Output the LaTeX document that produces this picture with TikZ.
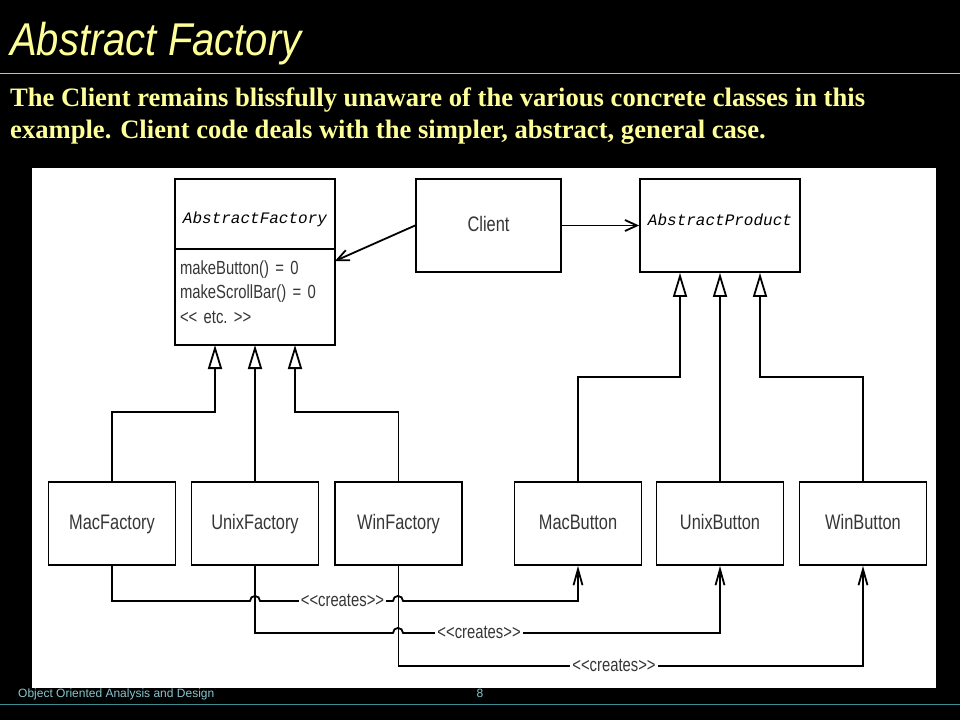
\documentclass[tikz,border=0pt]{standalone}
\usepackage{fontspec}
\setmainfont{Liberation Serif}
\newfontfamily\titlefont[FakeStretch=0.87]{Liberation Sans}
\newfontfamily\umlfont[FakeStretch=0.78]{Liberation Sans}
\newfontfamily\umlmono{Liberation Mono}
\newfontfamily\footfont{Liberation Sans}
\usetikzlibrary{arrows.meta}
\definecolor{slide_yellow}{HTML}{FFFF99}
\definecolor{slide_rule}{HTML}{9CC8EC}
\definecolor{foot_teal}{HTML}{86C6CE}
\definecolor{foot_rule}{HTML}{3C8C94}
\definecolor{uml_gray}{HTML}{363636}
\tikzset{
	node_class/.style = {
		rectangle,
		draw=black,
		fill=white,
		line width=1.8pt,
		inner sep=0pt,
		text=uml_gray,
		text height=15pt,
		text depth=4pt,
		font=\umlfont\fontsize{21}{24}\selectfont,
		minimum width=127pt,
		minimum height=83pt
	},
	node_abstract/.style = {
		node_class,
		font=\umlmono\itshape\fontsize{16}{18}\selectfont,
		text=black,
		minimum width=160pt
	},
	node_methods/.style = {
		node_class,
		align=left,
		text width=150pt,
		inner xsep=5pt,
		outer sep=0pt,
		text height=14pt,
		text depth=60pt,
		font=\umlfont\fontsize{19}{24.5}\selectfont,
		minimum width=160pt,
		minimum height=96pt
	},
	node_label/.style = {
		fill=white,
		inner sep=2pt,
		text=uml_gray,
		font=\umlfont\fontsize{19}{20}\selectfont
	},
	intro/.style = {
		anchor=base west,
		inner sep=0pt,
		text=slide_yellow,
		font=\bfseries\fontsize{26.6}{30}\selectfont
	},
	edge_inherit/.style = {
		-{Triangle[open,length=24pt,width=14pt]},
		line width=1.8pt
	},
	edge_uses/.style = {
		-{Straight Barb[length=12pt,width=11pt]},
		line width=1.8pt
	},
	edge_creates/.style = {
		-{Straight Barb[length=16pt,width=9pt]},
		line width=1.8pt
	},
}
\begin{document}
\begin{tikzpicture}[x=1pt,y=-1pt]
\useasboundingbox (0,0) rectangle (960,720);
\fill[black] (0,0) rectangle (960,720);
\fill[white] (32,168) rectangle (936,688);

% slide heading
\node[anchor=base west, inner sep=0pt, text=slide_yellow, font=\titlefont\itshape\fontsize{46}{46}\selectfont] (title) at (10,55) {Abstract Factory};
\draw[slide_rule, line width=1pt] (0,73) -- (960,73);
\node[intro] (intro_a) at (10,106) {The Client remains blissfully unaware of the various concrete classes in this};
\node[intro] (intro_b) at (10,138) {example. Client code deals with the simpler, abstract, general case.};

% abstract classes
\node [node_abstract, minimum height=70pt, outer sep=0pt, text height=18pt, text depth=0pt] (af) at (255,214) {AbstractFactory};
\node [node_methods, anchor=north] (afm) at (af.south) {makeButton() = 0\\makeScrollBar() = 0\\<{}< etc.\ >{}>};
\node [node_class, minimum width=145pt, minimum height=93pt] (client) at (488.5,225.5) {Client};
\node [node_abstract, minimum height=93pt, text height=10pt, text depth=11pt] (ap) at (720,225.5) {AbstractProduct};

% concrete classes
\node [node_class] (macf) at (112,523.5) {MacFactory};
\node [node_class] (unixf) at (255,523.5) {UnixFactory};
\node [node_class] (winf) at (398.5,523.5) {WinFactory};
\node [node_class] (macb) at (578,523.5) {MacButton};
\node [node_class] (unixb) at (720,523.5) {UnixButton};
\node [node_class] (winb) at (863,523.5) {WinButton};

% client uses
\draw [edge_uses] (client.west) -- ([yshift=-12pt]afm.north east);
\draw [edge_uses] (client.east) -- (ap.west);

% generalisation
\draw [edge_inherit] (macf.north) -- ++(0,-69) -| ([xshift=-40pt]afm.south);
\draw [edge_inherit] (unixf.north) -- (afm.south);
\draw [edge_inherit] (winf.north) -- ++(0,-69) -| ([xshift=40pt]afm.south);
\draw [edge_inherit] (macb.north) -- ++(0,-104) -| ([xshift=-40pt]ap.south);
\draw [edge_inherit] (unixb.north) -- (ap.south);
\draw [edge_inherit] (winb.north) -- ++(0,-104) -| ([xshift=40pt]ap.south);

% creates
\draw [edge_creates] (macf.south) -- ++(0,35) -- ++(138,0)
	arc[start angle=180, end angle=0, radius=5pt] -- node[node_label, pos=0.62] {<{}<creates>{}>} ++(133,0)
	arc[start angle=180, end angle=0, radius=5pt] -| (macb.south);
\draw [edge_creates] (unixf.south) -- ++(0,67) -- ++(138,0)
	arc[start angle=180, end angle=0, radius=5pt] -| node[node_label, pos=0.12] {<{}<creates>{}>} (unixb.south);
\draw [edge_creates] (winf.south) -- ++(0,100) -| node[node_label, pos=0.232] {<{}<creates>{}>} (winb.south);

% footer
\node[anchor=base west, inner sep=0pt, text=foot_teal, font=\footfont\fontsize{12}{12}\selectfont] (foot) at (18,697) {Object Oriented Analysis and Design};
\node[anchor=base, inner sep=0pt, text=foot_teal, font=\footfont\fontsize{12}{12}\selectfont] (page) at (480,697) {8};
\draw[foot_rule, line width=1pt] (0,704) -- (960,704);
\end{tikzpicture}
\end{document}
